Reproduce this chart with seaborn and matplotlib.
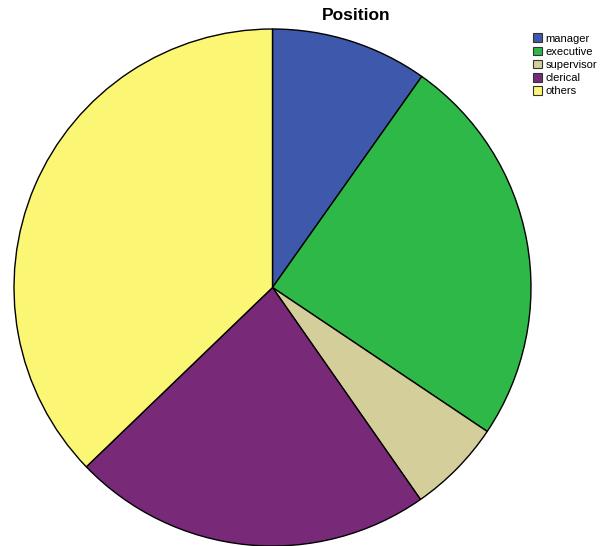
import matplotlib
matplotlib.use("Agg")
import matplotlib.pyplot as plt
import matplotlib.patches as mpatches
import seaborn as sns

categories = ["manager", "executive", "supervisor", "clerical", "others"]
shares = [9.8, 24.6, 5.9, 22.5, 37.2]
colors = ["#3E58AC", "#2EB848", "#D4CF9A", "#782A79", "#FBF673"]
title = "Position"

sns.set_theme(style="white")
plt.rcParams['font.family'] = ['Liberation Sans', 'DejaVu Sans']
plt.rcParams['text.color'] = 'black'

fig = plt.figure(figsize=(6.08, 5.46), dpi=100)
cx, cy, r = 272.5, 287.5, 258.5
W, H = 608, 546
ax = fig.add_axes([(cx - r) / W, (H - cy - r) / H, 2 * r / W, 2 * r / H])
ax.pie(shares, colors=colors, startangle=90, counterclock=False,
       wedgeprops=dict(edgecolor="black", linewidth=1.0))
ax.set_xlim(-1, 1)
ax.set_ylim(-1, 1)
ax.set_aspect("equal")
ax.axis("off")

fig.text(356 / W, 1 - 15 / H, title, ha="center", va="center",
         fontsize=12.5, fontweight="bold", color="black")

handles = [mpatches.Patch(facecolor=c, edgecolor="#333333", linewidth=0.8, label=l)
           for c, l in zip(colors, categories)]
leg = fig.legend(handles=handles, loc="upper left", bbox_to_anchor=(533 / W, 1 - 33.5 / H),
                 frameon=False, fontsize=8, handlelength=0.85, handleheight=0.85,
                 handletextpad=0.3, labelspacing=0.25, borderpad=0, borderaxespad=0)
for t in leg.get_texts():
    t.set_color("black")

fig.savefig("out.png", dpi=100)
